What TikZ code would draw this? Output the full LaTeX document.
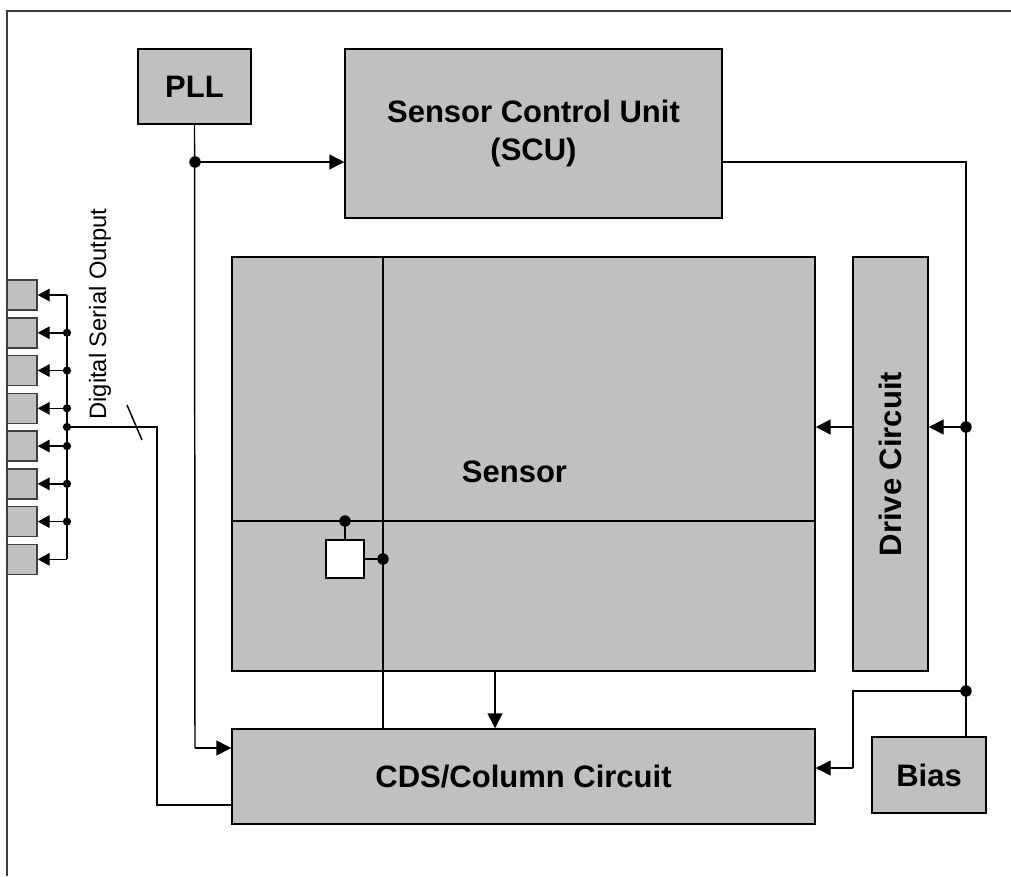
\documentclass[tikz,border=0pt]{standalone}
\usepackage{fontspec}
\setmainfont{Liberation Sans}
\usetikzlibrary{arrows.meta,calc}
\definecolor{boxgrey}{RGB}{192,192,192}
\definecolor{framegrey}{RGB}{60,60,60}
\tikzset{
  x=0.75pt, y=-0.75pt,
  wh/.style 2 args={minimum width=#1*0.75pt, minimum height=#2*0.75pt},
  blk/.style={draw=black, fill=boxgrey, line width=1.1pt, inner sep=0pt,
    font=\fontsize{23.25pt}{28.9pt}\selectfont\bfseries, align=center},
  pix/.style={draw=black, fill=white, line width=1.1pt, inner sep=0pt},
  pad/.style={draw=black!75, fill=boxgrey, line width=1.1pt, inner sep=0pt},
  wire/.style={line width=1.1pt, black},
  arr/.style={wire, -{Triangle[length=11.25pt, width=11.25pt]}},
  sarr/.style={wire, -{Triangle[length=9pt, width=9.5pt]}},
  bigdot/.style={circle, fill=black, inner sep=0pt, minimum size=8.6pt},
  smalldot/.style={circle, fill=black, inner sep=0pt, minimum size=6.2pt},
  lbl/.style={inner sep=0pt},
}
\begin{document}
\begin{tikzpicture}
\useasboundingbox (0,0) rectangle (1011,876);
% outer frame (left and top edges visible)
\draw[framegrey, line width=1.5pt] (7,876) -- (7,11) -- (1011,11);

% blocks
\node[blk, wh={113}{75}] (pll) at (194.5,86.5) {PLL};
\node[blk, wh={377}{169}] (scu) at (533.5,133.5) {Sensor Control Unit\\(SCU)};
\node[blk, wh={583}{414}] (sensor) at (523.5,464) {};
\node[lbl, font=\fontsize{23.25pt}{28.9pt}\selectfont\bfseries, anchor=base] (sensorlbl) at (514.5,482.3) {Sensor};
\node[blk, wh={75}{414}] (drive) at (890.5,464) {};
\node[lbl, font=\fontsize{23.25pt}{28.9pt}\selectfont\bfseries, rotate=90] (drivelbl) at (890.5,464) {Drive Circuit};
\node[blk, wh={583}{95}] (cds) at (523.5,776.5) {CDS/Column Circuit};
\node[blk, wh={114}{76}] (bias) at (929,775) {Bias};

% pads
\foreach \i in {0,...,7}{
  \node[pad, wh={30}{30}] (pad\i) at (22,{295+37.76*\i}) {};
}

% named junctions
\coordinate (pllj) at (195,162);
\coordinate (rtop) at (966,162);
\coordinate (rj1) at (966,427);
\coordinate (rj2) at (966,691);
\coordinate (bend2) at (853,691);
\coordinate (bend3) at (853,768);
\coordinate (pllbot) at (195,748);
\coordinate (colx) at (383,0);
\coordinate (rowy) at (0,521);
\coordinate (pixj1) at (345,521);
\coordinate (pixj2) at (383,559);
\coordinate (outc) at (157,805);
\coordinate (outu) at (157,427);
\coordinate (busj) at (67,427);
\coordinate (sensarr) at (495,0);
\coordinate (slashA) at (127,405);
\coordinate (slashB) at (142,440);

% sensor internal lines
\draw[wire] (sensor.west |- rowy) -- (sensor.east |- rowy);
\draw[wire] (sensor.north -| colx) -- (cds.north -| colx);
\draw[wire] (pixj1) -- (345,540);
\node[pix, wh={38}{38}] (pixel) at (345,559) {};
\draw[wire] (pixel.east) -- (pixj2);
\node[bigdot] (dpix1) at (pixj1) {};
\node[bigdot] (dpix2) at (pixj2) {};

% PLL connections
\draw[wire] (pll.south) -- (pllbot);
\draw[arr] (pllbot) -- (cds.west |- pllbot);
\draw[arr] (pllj) -- (scu.west |- pllj);
\node[bigdot] (dpll) at (pllj) {};

% SCU to right rail and bias
\draw[wire] (scu.east |- rtop) -- (rtop) -- (bias.north -| rtop);
\draw[arr] (rj1) -- (drive.east |- rj1);
\draw[arr] (drive.west |- rj1) -- (sensor.east |- rj1);
\draw[wire] (rj2) -- (bend2) -- (bend3);
\draw[arr] (bend3) -- (cds.east |- bend3);
\node[bigdot] (drj1) at (rj1) {};
\node[bigdot] (drj2) at (rj2) {};

% sensor to CDS
\draw[arr] (sensor.south -| sensarr) -- (cds.north -| sensarr);

% digital serial output
\draw[wire] (cds.west |- outc) -- (outc) -- (outu) -- (busj);
\draw[wire] (slashA) -- (slashB);
\draw[wire] (pad0.east -| busj) -- (pad7.east -| busj);
\foreach \i in {0,...,7}{
  \draw[sarr] (pad\i.east -| busj) -- (pad\i.east);
}
\foreach \i in {1,...,6}{
  \node[smalldot] (bd\i) at (pad\i.east -| busj) {};
}
\node[smalldot] (bdj) at (busj) {};
\node[lbl, rotate=90, font=\fontsize{17.8pt}{20pt}\selectfont] (dso) at (100,314) {Digital Serial Output};
\end{tikzpicture}
\end{document}
